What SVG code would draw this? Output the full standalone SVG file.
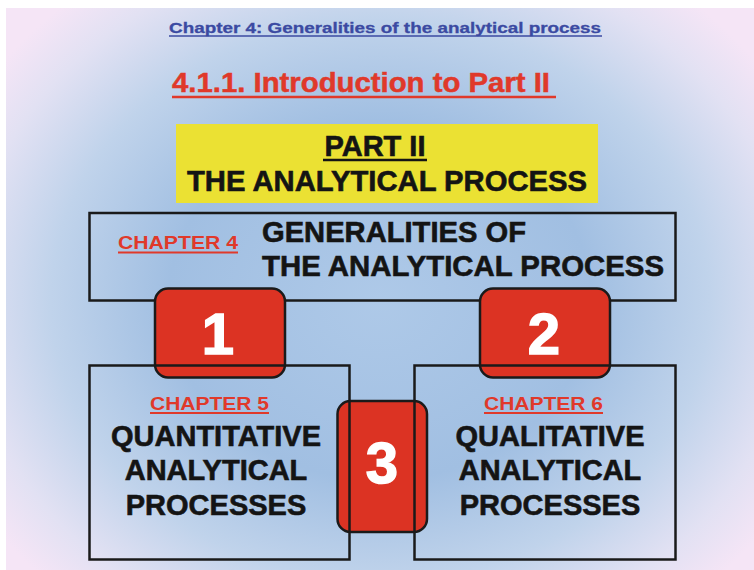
<svg xmlns="http://www.w3.org/2000/svg" width="754" height="570" viewBox="0 0 754 570">
  <defs>
    <radialGradient id="bg" gradientUnits="userSpaceOnUse" cx="380" cy="300" r="470" gradientTransform="translate(380 300) scale(1 0.85) translate(-380 -300)">
      <stop offset="0" stop-color="#aec9e8"/>
      <stop offset="0.45" stop-color="#a1bfe2"/>
      <stop offset="0.7" stop-color="#c0d3eb"/>
      <stop offset="0.88" stop-color="#e2e1f3"/>
      <stop offset="1" stop-color="#f5e5f6"/>
    </radialGradient>
    <style>
      text { font-family: "Liberation Sans", Arial, sans-serif; font-weight: bold; }
      .box { fill: none; stroke: #1a1a1a; stroke-width: 2.5; }
      .num { fill: #dc3323; stroke: #1a1a1a; stroke-width: 2.5; }
      .numtxt { fill: #ffffff; stroke: #ffffff; stroke-width: 1.5; font-size: 58px; text-anchor: middle; }
      .chap { fill: #e0392a; font-size: 19px; }
      .big { fill: #141414; stroke: #141414; stroke-width: 0.6; font-size: 29px; }
      .mid { fill: #141414; stroke: #141414; stroke-width: 0.6; font-size: 29px; text-anchor: middle; }
      .ul-red { stroke: #e0392a; stroke-width: 2; }
      .ul-blk { stroke: #141414; stroke-width: 2.5; }
    </style>
  </defs>
  <rect x="0" y="0" width="754" height="570" fill="#ffffff"/>
  <rect x="6" y="8" width="748" height="562" fill="url(#bg)"/>

  <g id="header">
    <text x="169" y="33" font-size="15.5" fill="#3b4aa2" stroke="#3b4aa2" stroke-width="0.3" textLength="432" lengthAdjust="spacingAndGlyphs">Chapter 4: Generalities of the analytical process</text>
    <line x1="169" y1="36" x2="602" y2="36" stroke="#3b4aa2" stroke-width="1.5"/>
    <text x="172" y="92" font-size="28.5" fill="#e0392a" stroke="#e0392a" stroke-width="0.5" textLength="378" lengthAdjust="spacingAndGlyphs">4.1.1. Introduction to Part II</text>
    <line x1="172" y1="97" x2="556" y2="97" stroke="#e0392a" stroke-width="2.5"/>
  </g>

  <g id="part2">
    <rect x="176" y="124" width="422" height="79" fill="#ebe133"/>
    <text x="375" y="156" class="big" text-anchor="middle">PART II</text>
    <line x1="323" y1="160" x2="427" y2="160" class="ul-blk"/>
    <text x="187" y="191" class="big" textLength="400" lengthAdjust="spacingAndGlyphs">THE ANALYTICAL PROCESS</text>
  </g>

  <g id="chapter4">
    <rect x="89.5" y="213" width="586" height="87.5" class="box"/>
    <text x="118" y="249" class="chap" textLength="120" lengthAdjust="spacingAndGlyphs">CHAPTER 4</text>
    <line x1="118" y1="252.5" x2="238" y2="252.5" class="ul-red"/>
    <text x="262" y="242" class="big" textLength="264" lengthAdjust="spacingAndGlyphs">GENERALITIES OF</text>
    <text x="262" y="276" class="big" textLength="402" lengthAdjust="spacingAndGlyphs">THE ANALYTICAL PROCESS</text>
  </g>

  <g id="connectors">
    <g id="link1">
      <rect x="155" y="288.5" width="130" height="89" rx="13" class="num"/>
    </g>
    <g id="link2">
      <rect x="480" y="288.5" width="130" height="89" rx="13" class="num"/>
    </g>
    <g id="link3">
      <rect x="337.5" y="401" width="89.5" height="131" rx="13" class="num"/>
    </g>
  </g>

  <g id="chapter5">
    <rect x="89.5" y="365.5" width="260" height="194" class="box"/>
    <text x="150" y="410" class="chap" textLength="119" lengthAdjust="spacingAndGlyphs">CHAPTER 5</text>
    <line x1="150" y1="413" x2="269" y2="413" class="ul-red"/>
    <text x="216" y="446" class="mid">QUANTITATIVE</text>
    <text x="216" y="480" class="mid">ANALYTICAL</text>
    <text x="216" y="515" class="mid">PROCESSES</text>
  </g>

  <g id="chapter6">
    <rect x="414.5" y="365.5" width="261" height="194" class="box"/>
    <text x="484" y="410" class="chap" textLength="119" lengthAdjust="spacingAndGlyphs">CHAPTER 6</text>
    <line x1="484" y1="413" x2="603" y2="413" class="ul-red"/>
    <text x="550" y="446" class="mid">QUALITATIVE</text>
    <text x="550" y="480" class="mid">ANALYTICAL</text>
    <text x="550" y="515" class="mid">PROCESSES</text>
  </g>

  <g id="numbers">
    <text x="218" y="354" class="numtxt">1</text>
    <text x="544" y="354" class="numtxt">2</text>
    <text x="382" y="483" class="numtxt">3</text>
  </g>
</svg>
